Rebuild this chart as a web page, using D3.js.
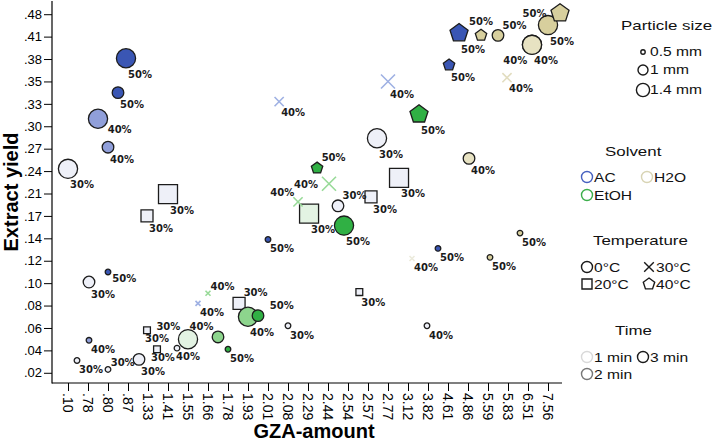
<!DOCTYPE html>
<html><head><meta charset="utf-8">
<script src="https://cdn.jsdelivr.net/npm/d3@7"></script>
<style>body{margin:0;background:#fff}svg{display:block}</style>
</head><body>
<svg id="chart" width="714" height="443"></svg>
<script>
// ---------- data ----------
const xTicks = [0.10,0.78,0.80,0.87,1.33,1.41,1.55,1.66,1.78,1.93,2.01,2.08,2.29,2.44,2.54,2.57,2.77,3.12,3.82,4.61,4.86,5.59,5.83,6.51,7.56];
const yTicks = [0.02,0.04,0.06,0.08,0.10,0.12,0.14,0.17,0.21,0.24,0.27,0.30,0.33,0.35,0.38,0.41,0.48];

const gza      = [0.863,0.835,0.79,0.80,0.10,1.41,1.307,0.781,0.80,0.781,0.406,0.80,1.123,1.307,1.366,1.473,1.55,1.72,1.78,1.605,1.66,1.863,1.93,1.97,2.08,2.557,3.785,3.26,4.215,5.614,6.238,4.897,2.01,2.52,2.298,2.49,2.60,2.963,2.185,2.445,2.358,2.66,3.505,2.77,2.049,4.623,4.748,5.335,5.71,6.72,6.72,7.56,8.19,5.818];
const yieldVal = [0.381,0.340,0.310,0.272,0.243,0.209,0.170,0.101,0.110,0.049,0.031,0.023,0.032,0.058,0.041,0.042,0.050,0.052,0.041,0.082,0.091,0.082,0.070,0.071,0.062,0.092,0.062,0.122,0.131,0.123,0.147,0.257,0.139,0.157,0.174,0.188,0.204,0.231,0.195,0.223,0.244,0.284,0.316,0.350,0.332,0.372,0.421,0.414,0.414,0.399,0.399,0.446,0.483,0.355];
const particle = [1.4,1,1.4,1,1.4,1.4,1,1,0.5,0.5,0.5,0.5,1,0.5,0.5,0.5,1.4,1,0.5,0.5,0.5,1,1.4,1,0.5,0.5,0.5,0.5,0.5,0.5,0.5,1,0.5,1.4,1.4,1,1,1.4,1,1.4,1,1.4,1.4,1.4,1,1,1.4,1,1,1.4,1.4,1.4,1.4,1];
const solvent  = ["AC","AC","AC","AC","AC","AC","AC","AC","AC","AC","AC","AC","AC","AC","AC","AC","EtOH","EtOH","EtOH","AC","EtOH","AC","EtOH","EtOH","AC","AC","AC","H2O","AC","H2O","H2O","H2O","AC","EtOH","EtOH","AC","AC","AC","EtOH","EtOH","EtOH","AC","EtOH","AC","AC","AC","AC","H2O","H2O","H2O","H2O","H2O","H2O","H2O"];
const temperature = [0,0,0,0,0,20,20,0,0,0,0,0,0,20,20,0,0,0,0,30,30,20,0,0,0,20,0,30,0,0,0,0,0,0,20,0,20,20,30,30,40,0,40,30,30,40,40,40,0,0,0,0,40,30];
const timeMin  = [3,3,2,2,1,1,1,1,3,2,1,1,1,1,1,1,1,2,3,2,2,1,2,3,1,1,1,1,3,3,3,2,3,3,1,1,1,1,2,2,3,1,3,2,2,3,3,3,3,2,2,3,3,2];
const pctLabel = ["50%","50%","40%","40%","30%","30%","30%","30%","50%","40%","30%","30%","30%","30%","30%","30%","40%","40%","50%","40%","40%","30%","40%","50%","30%","30%","40%","40%","50%","50%","50%","40%","50%","50%","30%","30%","30%","30%","40%","40%","50%","30%","50%","40%","40%","50%","50%","50%","50%","40%","40%","50%","50%","40%"];
const labelSide = ["se","se","ese","se","se","se","se","se","ese","se","se","ne","se","e","n","sw","s","nw","se","se","ne","ne","se","ene","se","se","se","se","se","se","se","se","se","se","se","ne","se","se","nw","w","ne","se","se","se","se","se","se","n","ne","sw","se","se","w","se"];

const sizeLegend = [0.5, 1, 1.4];
const sizeLegendText = ["0.5 mm","1 mm","1.4 mm"];
const solventLegend = ["AC","H2O","EtOH"];
const tempLegend = [0,30,20,40];
const tempLegendText = ["0°C","30°C","20°C","40°C"];
const timeLegend = [1,3,2];
const timeLegendText = ["1 min","3 min","2 min"];

// ---------- styles ----------
const fillColors = {
  AC:   {1:"#eef0f8", 2:"#909fda", 3:"#3a56b4"},
  EtOH: {1:"#e3f3e3", 2:"#8dd58d", 3:"#30b044"},
  H2O:  {1:"#f4f2e4", 2:"#e7e2c2", 3:"#d7cf9d"}
};
const crossColors = {
  AC:   {1:"#c4cce6", 2:"#9fb1e3", 3:"#5b74c4"},
  EtOH: {1:"#b9e6b9", 2:"#98da98", 3:"#44b755"},
  H2O:  {1:"#ecebdc", 2:"#e2ddc0", 3:"#d3cb9a"}
};
const legendSolventStroke = {AC:"#4761c0", EtOH:"#3cae4b", H2O:"#d8d4b4"};
const legendTimeStroke = {1:"#d9d9d9", 2:"#777777", 3:"#1a1a1a"};

const shapes = {
  circle:   { draw(c, r){ c.moveTo(r,0); c.arc(0,0,r,0,2*Math.PI); } },
  square:   { draw(c, r){ c.rect(-r,-r,2*r,2*r); } },
  pentagon: { draw(c, r){ for(let k=0;k<5;k++){ const a=-Math.PI/2+k*2*Math.PI/5; const px=r*Math.cos(a), py=r*Math.sin(a); if(k) c.lineTo(px,py); else c.moveTo(px,py);} c.closePath(); } },
  cross:    { draw(c, r){ c.moveTo(-r,-r); c.lineTo(r,r); c.moveTo(r,-r); c.lineTo(-r,r); } }
};
const tempShape = {0:"circle", 20:"square", 30:"cross", 40:"pentagon"};
const radiusScales = {
  circle:   d3.scaleLinear().domain([0.5,1,1.4]).range([2.8,5.8,9.6]),
  square:   d3.scaleLinear().domain([0.5,1,1.4]).range([3.4,6,9.5]),
  pentagon: d3.scaleLinear().domain([0.5,1,1.4]).range([3.5,6,9.5]),
  cross:    d3.scaleLinear().domain([0.5,1,1.4]).range([2.5,4.6,7])
};

// ---------- scales ----------
const svg = d3.select("#chart");
const xPoint = d3.scalePoint().domain(xTicks).range([53,563]).padding(0.75);
const yPoint = d3.scalePoint().domain(yTicks).range([384,3]).padding(0.5);
const x = d3.scaleLinear().domain(xTicks).range(xTicks.map(d => xPoint(d)));
const y = d3.scaleLinear().domain(yTicks).range(yTicks.map(d => yPoint(d)));
const fmt = v => d3.format(".2f")(v).replace(/^0\./, ".");

const axisX0 = 52, axisY0 = 383;

// y axis
const gy = svg.append("g").attr("transform", `translate(${axisX0},0)`)
  .call(d3.axisLeft(y).tickValues(yTicks).tickFormat(fmt).tickSize(8).tickPadding(2).tickSizeOuter(0));
gy.select(".domain").remove();
gy.selectAll("text").attr("font-family","'Liberation Sans', Arial, sans-serif").attr("font-size",13).attr("fill","#000");
gy.selectAll("line").attr("stroke","#000");

// x axis
const gx = svg.append("g").attr("transform", `translate(0,${axisY0})`)
  .call(d3.axisBottom(x).tickValues(xTicks).tickFormat(fmt).tickSize(8).tickSizeOuter(0));
gx.select(".domain").remove();
gx.selectAll("line").attr("stroke","#000");
gx.selectAll("text")
  .attr("font-family","'Liberation Sans', Arial, sans-serif").attr("font-size",14).attr("fill","#000")
  .attr("transform","rotate(90)").attr("x",10).attr("y",0).attr("dy","0.36em")
  .attr("text-anchor","start");

// axis lines
svg.append("line").attr("x1",axisX0).attr("x2",axisX0).attr("y1",yPoint.range()[1]-2).attr("y2",axisY0+0.5).attr("stroke","#000").attr("stroke-width",1.2);
svg.append("line").attr("x1",axisX0).attr("x2",xPoint.range()[1]-1).attr("y1",axisY0).attr("y2",axisY0).attr("stroke","#000").attr("stroke-width",1.2);

// axis titles
svg.append("text").attr("transform","translate(18,192) rotate(-90)").attr("text-anchor","middle")
  .attr("font-family","'Liberation Sans', Arial, sans-serif").attr("font-weight","bold").attr("font-size",20).text("Extract yield");
svg.append("text").attr("x",314).attr("y",438).attr("text-anchor","middle")
  .attr("font-family","'Liberation Sans', Arial, sans-serif").attr("font-weight","bold").attr("font-size",20).text("GZA-amount");

// ---------- points ----------
const pts = gza.map((g,i) => {
  const shape = tempShape[temperature[i]];
  return {cx:x(g), cy:y(yieldVal[i]), shape, r:radiusScales[shape](particle[i]),
          sol:solvent[i], t:timeMin[i], label:pctLabel[i], side:labelSide[i]};
});
const sym = d3.symbol();
svg.append("g").selectAll("path").data(pts).join("path")
  .attr("transform", d => `translate(${d.cx},${d.cy})`)
  .attr("d", d => sym.type(shapes[d.shape]).size(d.r)())
  .attr("fill", d => d.shape === "cross" ? "none" : fillColors[d.sol][d.t])
  .attr("stroke", d => d.shape === "cross" ? crossColors[d.sol][d.t] : "#1c1c1c")
  .attr("stroke-width", d => d.shape === "cross" ? 1.6 : 1.3);

function labelPlace(d){
  const {cx, cy, r} = d;
  switch(d.side){
    case "ese": return [cx + r*0.8 + 2, cy + r*0.5 + 9, "start"];
    case "s":   return [cx, cy + r + 11, "middle"];
    case "sw":  return [cx - 1 - r*0.4, cy + r + 10, "end"];
    case "ne":  return [cx + r*0.6 + 1, cy - r - 1, "start"];
    case "ene": return [cx + r + 6, cy - r - 1, "start"];
    case "nw":  return [cx - r*0.6 - 1, cy - r - 1, "end"];
    case "n":   return [cx, cy - r - 4, "middle"];
    case "e":   return [cx + r + 6, cy, "start"];
    case "w":   return [cx - r - 4, cy + 4, "end"];
    default:    return [cx + 2, cy + r + 10, "start"];
  }
}
svg.append("g").selectAll("text").data(pts).join("text")
  .each(function(d){ const p = labelPlace(d); d3.select(this).attr("x",p[0]).attr("y",p[1]).attr("text-anchor",p[2]); })
  .attr("font-family","'DejaVu Sans', sans-serif").attr("font-weight","bold").attr("font-size",10)
  .attr("fill","#1a1a1a").text(d => d.label);

// ---------- legend ----------
const LF = "'Liberation Sans', Arial, sans-serif";
function legendText(px, py, txt, fs){
  svg.append("g").attr("transform", `translate(${px},${py}) scale(1.3,1)`)
    .append("text").attr("font-family",LF).attr("font-size",fs).attr("fill","#111").text(txt);
}
function legendMark(px, py, shape, r, stroke){
  svg.append("path").attr("transform",`translate(${px},${py})`)
    .attr("d", d3.symbol().type(shapes[shape]).size(r)())
    .attr("fill","none").attr("stroke",stroke).attr("stroke-width",1.4);
}
// particle size
legendText(621, 30, "Particle size", 13);
const sizeR = d3.scaleLinear().domain([0.5,1,1.4]).range([2.2,5,6.6]);
sizeLegend.forEach((s,i) => {
  const ry = [52,70,90][i];
  legendMark(643, ry, "circle", sizeR(s), "#1a1a1a");
  legendText(650, ry+4, sizeLegendText[i], 12);
});
// solvent
legendText(605, 156, "Solvent", 13);
solventLegend.forEach((s,i) => {
  const px = [587,647,587][i], py = [177,177,195][i];
  legendMark(px, py, "circle", 5.5, legendSolventStroke[s]);
  legendText(px+7, py+5, s, 12);
});
// temperature
legendText(593, 245, "Temperature", 13);
tempLegend.forEach((t,i) => {
  const px = [587,649,587,649][i], py = [267,267,284,284][i];
  const sh = tempShape[t];
  legendMark(px, py, sh, sh === "circle" ? 5.5 : sh === "pentagon" ? 6 : sh === "cross" ? 4.8 : 5, "#1a1a1a");
  legendText(px+7, py+5, tempLegendText[i], 12);
});
// time
legendText(615, 335, "Time", 13);
timeLegend.forEach((t,i) => {
  const px = [587,643,587][i], py = [357,357,374][i];
  legendMark(px, py, "circle", 5.5, legendTimeStroke[t]);
  legendText(px+7, py+5, timeLegendText[i], 12);
});
</script>
</body></html>
